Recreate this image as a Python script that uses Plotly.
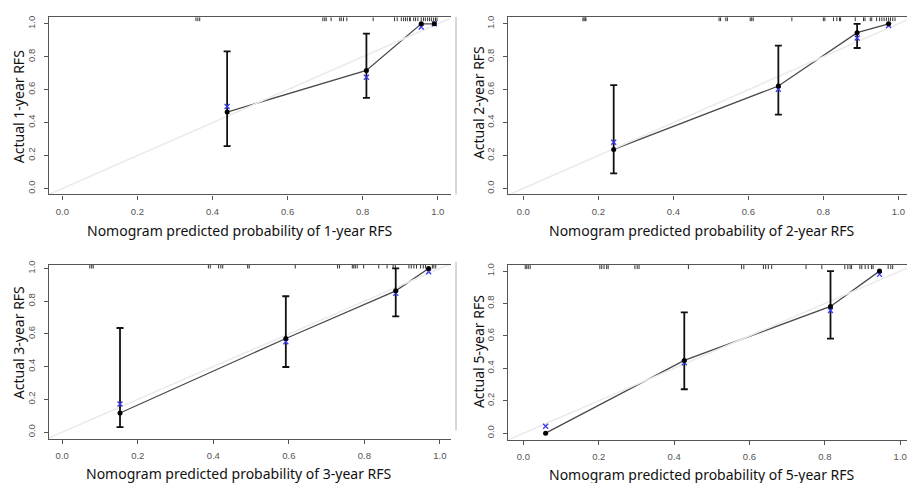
import plotly.graph_objects as go

# ---------------- data ----------------
panels = ["1-year", "2-year", "3-year", "5-year"]

pred_1 = [0.439, 0.810, 0.956, 0.991]
obs_1 = [0.464, 0.717, 1.000, 1.000]
lo_1 = [0.257, 0.550, None, None]
hi_1 = [0.833, 0.940, None, None]
bc_1 = [0.498, 0.675, 0.980, 1.000]
rug_1 = [0.356, 0.361, 0.366, 0.694, 0.699, 0.703, 0.716, 0.739, 0.743, 0.749, 0.758,
         0.828, 0.885, 0.892, 0.903, 0.909, 0.914, 0.919, 0.925, 0.927, 0.936, 0.941,
         0.947, 0.956, 0.962, 0.967, 0.973, 0.978, 0.983, 0.989, 0.994, 0.998]

pred_2 = [0.241, 0.680, 0.890, 0.974]
obs_2 = [0.237, 0.622, 0.946, 1.000]
lo_2 = [0.092, 0.448, 0.853, None]
hi_2 = [0.628, 0.867, 1.000, None]
bc_2 = [0.281, 0.602, 0.914, 0.990]
rug_2 = [0.159, 0.162, 0.165, 0.167, 0.522, 0.526, 0.540, 0.544, 0.605, 0.609, 0.613,
         0.716, 0.800, 0.804, 0.827, 0.836, 0.843, 0.846, 0.885, 0.907, 0.911, 0.925,
         0.929, 0.942, 0.950, 0.956, 0.962, 0.968, 0.974, 0.979, 0.985, 0.991]

pred_3 = [0.153, 0.592, 0.883, 0.970]
obs_3 = [0.117, 0.572, 0.863, 1.000]
lo_3 = [0.030, 0.398, 0.707, None]
hi_3 = [0.636, 0.830, 1.000, None]
bc_3 = [0.172, 0.552, 0.848, 0.980]
rug_3 = [0.073, 0.078, 0.082, 0.387, 0.392, 0.414, 0.420, 0.425, 0.491, 0.495, 0.617,
         0.729, 0.734, 0.768, 0.772, 0.776, 0.781, 0.798, 0.838, 0.860, 0.876, 0.882,
         0.918, 0.924, 0.931, 0.938, 0.949, 0.956, 0.962, 0.980, 0.984, 0.989]

pred_5 = [0.059, 0.427, 0.815, 0.945]
obs_5 = [0.000, 0.449, 0.782, 1.000]
lo_5 = [None, 0.271, 0.584, None]
hi_5 = [None, 0.745, 1.000, None]
bc_5 = [0.043, 0.435, 0.757, 0.980]
rug_5 = [0.005, 0.009, 0.013, 0.018, 0.203, 0.208, 0.214, 0.221, 0.225, 0.296, 0.302,
         0.307, 0.438, 0.579, 0.585, 0.637, 0.643, 0.650, 0.659, 0.750, 0.792, 0.853,
         0.861, 0.867, 0.871, 0.893, 0.898, 0.907, 0.915, 0.924, 0.928, 0.968, 0.975, 0.980]

tick_vals = [0.0, 0.2, 0.4, 0.6, 0.8, 1.0]
tick_text = ["0.0", "0.2", "0.4", "0.6", "0.8", "1.0"]

# ---------------- layout geometry (pixels) ----------------
W, H = 907, 483
geo = [
    dict(l=49, r=450.5, t=13.3, b=192, xr=[-0.0355, 1.034], yr=[-0.036, 1.040],
         xt=(240, 228), yt=(18, 104)),
    dict(l=508.3, r=907, t=13.3, b=192, xr=[-0.040, 1.023], yr=[-0.036, 1.040],
         xt=(702, 228), yt=(478, 99)),
    dict(l=49, r=450.5, t=262.7, b=438.3, xr=[-0.035, 1.028], yr=[-0.040, 1.024],
         xt=(239, 473), yt=(18, 342)),
    dict(l=508.3, r=907, t=263.3, b=439.3, xr=[-0.040, 1.018], yr=[-0.040, 1.037],
         xt=(702, 474.5), yt=(478, 350)),
]

datasets = [
    (pred_1, obs_1, lo_1, hi_1, bc_1, rug_1),
    (pred_2, obs_2, lo_2, hi_2, bc_2, rug_2),
    (pred_3, obs_3, lo_3, hi_3, bc_3, rug_3),
    (pred_5, obs_5, lo_5, hi_5, bc_5, rug_5),
]

fig = go.Figure()
annotations = []
layout_axes = {}

for i, (label, g, ds) in enumerate(zip(panels, geo, datasets)):
    pred, obs, lo, hi, bc, rug = ds
    n = "" if i == 0 else str(i + 1)
    xa, ya = "x" + n, "y" + n

    # connecting line of observed points
    fig.add_trace(go.Scatter(x=pred, y=obs, mode="lines", xaxis=xa, yaxis=ya,
                             line=dict(color="#4a4a4a", width=1.3), showlegend=False,
                             hoverinfo="skip"))
    # ideal diagonal (drawn over the line, like the original)
    fig.add_trace(go.Scatter(x=[g["xr"][0], g["xr"][1]], y=[g["xr"][0], g["xr"][1]],
                             mode="lines", xaxis=xa, yaxis=ya,
                             line=dict(color="#ebebeb", width=1.6), showlegend=False,
                             hoverinfo="skip"))
    # rug ticks along top
    top = g["yr"][1]
    ylen = (g["yr"][1] - g["yr"][0]) * 4.0 / (g["b"] - g["t"])
    rx, ry = [], []
    for v in rug:
        rx += [v, v, None]
        ry += [top, top - ylen, None]
    fig.add_trace(go.Scatter(x=rx, y=ry, mode="lines", xaxis=xa, yaxis=ya,
                             line=dict(color="#333333", width=1), showlegend=False,
                             hoverinfo="skip"))
    # error bars
    ex = [p for p, l_, h_ in zip(pred, lo, hi) if l_ is not None]
    ey_mid = [o for o, l_ in zip(obs, lo) if l_ is not None]
    eplus = [h_ - o for o, l_, h_ in zip(obs, lo, hi) if l_ is not None]
    eminus = [o - l_ for o, l_ in zip(obs, lo) if l_ is not None]
    fig.add_trace(go.Scatter(x=ex, y=ey_mid, mode="markers", xaxis=xa, yaxis=ya,
                             marker=dict(size=1, color="rgba(0,0,0,0)"),
                             error_y=dict(type="data", symmetric=False, array=eplus,
                                          arrayminus=eminus, color="#111111",
                                          thickness=1.8, width=3.5),
                             showlegend=False, hoverinfo="skip"))
    # bias-corrected (blue x)
    fig.add_trace(go.Scatter(x=pred, y=bc, mode="markers", xaxis=xa, yaxis=ya,
                             marker=dict(symbol="x-thin", size=5,
                                         line=dict(color="#3a3af0", width=1.3)),
                             showlegend=False, hoverinfo="skip"))
    # observed points
    fig.add_trace(go.Scatter(x=pred, y=obs, mode="markers", xaxis=xa, yaxis=ya,
                             marker=dict(symbol="circle", size=5, color="#000000"),
                             showlegend=False, hoverinfo="skip"))

    common = dict(showgrid=False, zeroline=False, showline=True, linecolor="#555555",
                  linewidth=1.2, ticks="outside", ticklen=4, tickwidth=1,
                  tickcolor="#555555", tickvals=tick_vals, ticktext=tick_text,
                  tickfont=dict(family="Liberation Sans, Arial", size=9.5, color="#555555"),
                  fixedrange=True)
    layout_axes["xaxis" + n] = dict(common, domain=[g["l"] / W, g["r"] / W],
                                    range=g["xr"], anchor=ya, mirror=True,
                                    ticklabelstandoff=4)
    layout_axes["yaxis" + n] = dict(common, domain=[1 - g["b"] / H, 1 - g["t"] / H],
                                    range=g["yr"], anchor=xa, mirror=False,
                                    tickangle=-90, ticklabelstandoff=5)

    annotations.append(dict(text="Nomogram predicted probability of %s RFS" % label,
                            x=g["xt"][0] / W, y=1 - g["xt"][1] / H, xref="paper",
                            yref="paper", showarrow=False, xanchor="center",
                            yanchor="middle",
                            font=dict(family="Noto Sans", size=14, color="#111111")))
    annotations.append(dict(text="Actual %s RFS" % label,
                            x=g["yt"][0] / W, y=1 - g["yt"][1] / H, xref="paper",
                            yref="paper", showarrow=False, xanchor="center",
                            yanchor="middle", textangle=-90,
                            font=dict(family="Noto Sans", size=14, color="#111111")))

shapes = [
    dict(type="line", xref="paper", yref="paper", x0=456 / W, x1=456 / W,
         y0=1 - 192 / H, y1=1 - 13 / H, line=dict(color="#b0b0b0", width=1)),
    dict(type="line", xref="paper", yref="paper", x0=456 / W, x1=456 / W,
         y0=1 - 430 / H, y1=1 - 260 / H, line=dict(color="#b0b0b0", width=1)),
]

fig.update_layout(width=W, height=H, margin=dict(l=0, r=0, t=0, b=0),
                  paper_bgcolor="white", plot_bgcolor="white",
                  annotations=annotations, shapes=shapes, **layout_axes)

fig.write_html("out.html")
